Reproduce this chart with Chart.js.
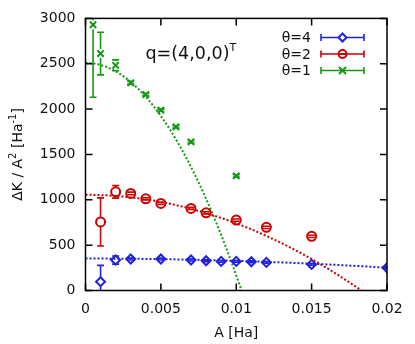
<!DOCTYPE html>
<html>
<head>
<meta charset="utf-8">
<script src="https://cdn.jsdelivr.net/npm/chart.js@4.4.1/dist/chart.umd.min.js"></script>
<style>
  html, body { margin: 0; padding: 0; background: #fff; }
</style>
</head>
<body>
<canvas id="chart" width="415" height="344"></canvas>
<script>
// θ=4 (blue diamonds)
const theta4X = [0.001, 0.002, 0.003, 0.005, 0.007, 0.008, 0.009, 0.010, 0.011, 0.012, 0.015, 0.020];
const theta4Y = [97, 336, 347, 347, 336, 328, 321, 321, 317, 310, 288, 251];
const theta4Err = [180, 45, 10, 10, 10, 10, 10, 10, 10, 10, 10, 10];

// θ=2 (red circles)
const theta2X = [0.001, 0.002, 0.003, 0.004, 0.005, 0.007, 0.008, 0.010, 0.012, 0.015];
const theta2Y = [756, 1088, 1070, 1011, 960, 905, 857, 776, 696, 597];
const theta2Err = [265, 70, 15, 12, 12, 12, 12, 12, 12, 12];

// θ=1 (green crosses)
const theta1X = [0.0005, 0.001, 0.002, 0.003, 0.004, 0.005, 0.006, 0.007, 0.010];
const theta1Y = [2930, 2612, 2483, 2290, 2160, 1988, 1804, 1639, 1264];
const theta1Err = [800, 235, 60, 15, 12, 12, 12, 12, 12];

// fitted curves a + b*A + c*A^2 (dotted lines)
const fit4 = [352, 0, -252000];
const fit2 = [1055, 0, -3150000];
const fit1 = [2510, 0, -23430000];

const xTickLabels = ['0', '0.005', '0.01', '0.015', '0.02'];
const yTickLabels = ['0', '500', '1000', '1500', '2000', '2500', '3000'];

const BLUE = '#2222dd';
const RED = '#cc0000';
const GREEN = '#119911';
const FONT = 'DejaVu Sans';

const toPoints = (xs, ys) => xs.map((x, i) => ({ x: x, y: ys[i] }));

const fitPoints = (coef) => {
  const pts = [];
  for (let i = 0; i <= 200; i++) {
    const x = 0.02 * i / 200;
    pts.push({ x: x, y: coef[0] + coef[1] * x + coef[2] * x * x });
  }
  return pts;
};

const fitLine = (coef, color) => ({
  type: 'line',
  data: fitPoints(coef),
  borderColor: color,
  borderWidth: 2,
  borderDash: [2, 2],
  pointRadius: 0,
  fill: false,
  tension: 0,
  errors: null
});

const marks = (xs, ys, errs, color, style, radius) => ({
  type: 'scatter',
  data: toPoints(xs, ys),
  errors: errs,
  borderColor: color,
  backgroundColor: 'transparent',
  pointStyle: style,
  pointRadius: radius,
  pointBorderWidth: 2,
  markerRadius: radius
});

// vertical error bars with caps
const errorBars = {
  id: 'errorBars',
  beforeDatasetsDraw(chart) {
    const { ctx, chartArea, scales } = chart;
    ctx.save();
    ctx.beginPath();
    ctx.rect(chartArea.left, chartArea.top, chartArea.right - chartArea.left, chartArea.bottom - chartArea.top);
    ctx.clip();
    chart.data.datasets.forEach(ds => {
      if (!ds.errors) return;
      ctx.strokeStyle = ds.borderColor;
      ctx.lineWidth = 1.6;
      ds.data.forEach((p, i) => {
        const px = scales.x.getPixelForValue(p.x);
        const py = scales.y.getPixelForValue(p.y);
        const top = scales.y.getPixelForValue(p.y + ds.errors[i]);
        const bot = scales.y.getPixelForValue(p.y - ds.errors[i]);
        const r = ds.markerRadius;
        ctx.beginPath();
        if (top < py - r) { ctx.moveTo(px, top); ctx.lineTo(px, py - r); }
        if (bot > py + r) { ctx.moveTo(px, py + r); ctx.lineTo(px, bot); }
        ctx.moveTo(px - 3.5, top); ctx.lineTo(px + 3.5, top);
        ctx.moveTo(px - 3.5, bot); ctx.lineTo(px + 3.5, bot);
        ctx.stroke();
      });
    });
    ctx.restore();
  }
};

function drawRich(ctx, parts, x, y, align) {
  let total = 0;
  parts.forEach(p => { ctx.font = p.size + 'px ' + FONT; total += ctx.measureText(p.t).width; });
  let cx = align === 'center' ? x - total / 2 : x;
  parts.forEach(p => {
    ctx.font = p.size + 'px ' + FONT;
    ctx.fillText(p.t, cx, y - (p.raise || 0));
    cx += ctx.measureText(p.t).width;
  });
}

// frame, inward ticks, legend, titles and annotation
const decorations = {
  id: 'decorations',
  afterDraw(chart) {
    const { ctx, chartArea: a, scales } = chart;
    ctx.save();
    ctx.strokeStyle = '#000';
    ctx.lineWidth = 1.5;
    ctx.beginPath();
    scales.x.ticks.forEach(t => {
      const px = scales.x.getPixelForValue(t.value);
      ctx.moveTo(px, a.bottom); ctx.lineTo(px, a.bottom - 7);
      ctx.moveTo(px, a.top); ctx.lineTo(px, a.top + 7);
    });
    scales.y.ticks.forEach(t => {
      const py = scales.y.getPixelForValue(t.value);
      ctx.moveTo(a.left, py); ctx.lineTo(a.left + 7, py);
      ctx.moveTo(a.right, py); ctx.lineTo(a.right - 7, py);
    });
    ctx.stroke();
    ctx.strokeRect(a.left, a.top, a.right - a.left, a.bottom - a.top);

    ctx.fillStyle = '#111';
    ctx.textBaseline = 'alphabetic';

    // annotation
    drawRich(ctx, [
      { t: 'q=(4,0,0)', size: 17.5 },
      { t: 'T', size: 11, raise: 8 }
    ], 145.5, 59, 'left');

    // x axis title
    ctx.textAlign = 'center';
    ctx.font = '14px ' + FONT;
    ctx.fillText('A [Ha]', (a.left + a.right) / 2, 337);

    // y axis title
    ctx.save();
    ctx.translate(22, (a.top + a.bottom) / 2);
    ctx.rotate(-Math.PI / 2);
    ctx.textAlign = 'left';
    drawRich(ctx, [
      { t: 'ΔK / A', size: 14 },
      { t: '2', size: 10, raise: 6 },
      { t: ' [Ha', size: 14 },
      { t: '-1', size: 10, raise: 6 },
      { t: ']', size: 14 }
    ], 0, 0, 'center');
    ctx.restore();

    // legend
    const rows = [
      { label: 'θ=4', color: BLUE, style: 'diamond' },
      { label: 'θ=2', color: RED, style: 'circle' },
      { label: 'θ=1', color: GREEN, style: 'cross' }
    ];
    rows.forEach((r, i) => {
      const y = 37.5 + i * 16.5;
      ctx.fillStyle = '#111';
      ctx.textAlign = 'right';
      ctx.textBaseline = 'middle';
      ctx.font = '14px ' + FONT;
      ctx.fillText(r.label, 311, y + 1);
      ctx.strokeStyle = r.color;
      ctx.lineWidth = 1.6;
      ctx.beginPath();
      ctx.moveTo(321, y); ctx.lineTo(364, y);
      ctx.moveTo(321, y - 3.5); ctx.lineTo(321, y + 3.5);
      ctx.moveTo(364, y - 3.5); ctx.lineTo(364, y + 3.5);
      ctx.stroke();
      ctx.lineWidth = 2;
      const mx = 342.5;
      ctx.beginPath();
      if (r.style === 'diamond') {
        ctx.fillStyle = '#fff';
        ctx.moveTo(mx, y - 4); ctx.lineTo(mx + 4, y); ctx.lineTo(mx, y + 4); ctx.lineTo(mx - 4, y); ctx.closePath();
        ctx.fill();
      } else if (r.style === 'circle') {
        ctx.fillStyle = '#fff';
        ctx.arc(mx, y, 4, 0, Math.PI * 2);
        ctx.fill();
        ctx.stroke();
        ctx.beginPath();
        ctx.moveTo(mx - 3.5, y); ctx.lineTo(mx + 3.5, y);
      } else {
        ctx.moveTo(mx - 3.5, y - 3.5); ctx.lineTo(mx + 3.5, y + 3.5);
        ctx.moveTo(mx - 3.5, y + 3.5); ctx.lineTo(mx + 3.5, y - 3.5);
      }
      ctx.stroke();
    });
    ctx.restore();
  }
};

new Chart(document.getElementById('chart'), {
  data: {
    datasets: [
      marks(theta4X, theta4Y, theta4Err, BLUE, 'rectRot', 4.5),
      fitLine(fit4, BLUE),
      marks(theta2X, theta2Y, theta2Err, RED, 'circle', 4.5),
      fitLine(fit2, RED),
      marks(theta1X, theta1Y, theta1Err, GREEN, 'crossRot', 4.5),
      fitLine(fit1, GREEN)
    ]
  },
  options: {
    responsive: false,
    animation: false,
    layout: { padding: { left: 0, right: 28, top: 18, bottom: 0 } },
    plugins: { legend: { display: false }, tooltip: { enabled: false } },
    scales: {
      x: {
        type: 'linear',
        min: 0, max: 0.02,
        grid: { display: false, drawTicks: false },
        border: { display: false },
        ticks: {
          stepSize: 0.005,
          padding: 10,
          color: '#111',
          font: { family: FONT, size: 14 },
          maxRotation: 0,
          callback: (v, i) => xTickLabels[i]
        },
        afterFit: s => { s.height = 53.5; }
      },
      y: {
        type: 'linear',
        min: 0, max: 3000,
        grid: { display: false, drawTicks: false },
        border: { display: false },
        ticks: {
          stepSize: 500,
          padding: 10,
          color: '#111',
          font: { family: FONT, size: 14 },
          callback: (v, i) => yTickLabels[i]
        },
        afterFit: s => { s.width = 85.5; }
      }
    }
  },
  plugins: [errorBars, decorations]
});
</script>
</body>
</html>
